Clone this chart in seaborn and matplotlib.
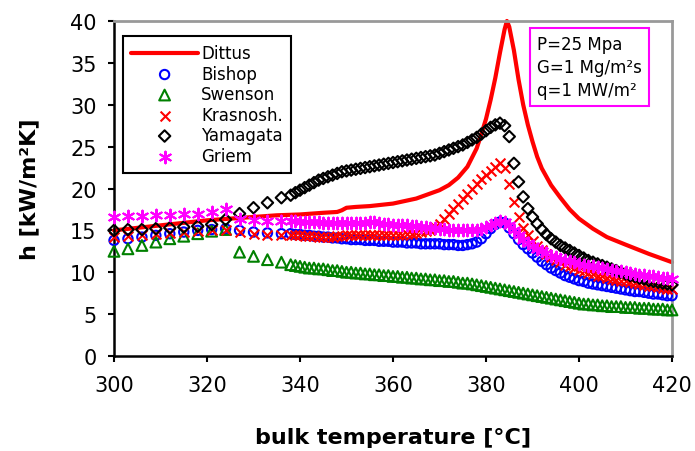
import numpy as np
import pandas as pd
import matplotlib
matplotlib.use('Agg')
import matplotlib.pyplot as plt
import seaborn as sns

sns.set_style('ticks')
plt.rcParams['font.family'] = ['DejaVu Sans']
plt.rcParams['text.color'] = 'black'
plt.rcParams['axes.labelcolor'] = 'black'
plt.rcParams['xtick.color'] = 'black'
plt.rcParams['ytick.color'] = 'black'

# Dittus correlation (solid line)
t_dittus = [300, 305, 310, 315, 320, 325, 330, 335, 340, 345, 348, 349, 350, 352, 355, 360, 365, 370,
            372, 374, 376, 378, 379, 380, 381, 382, 383, 384, 384.5, 385, 386, 387, 388, 389, 390,
            391, 392, 394, 396, 398, 400, 403, 406, 410, 415, 420]
h_dittus = [15.0, 15.3, 15.6, 15.9, 16.2, 16.4, 16.6, 16.8, 16.9, 17.1, 17.2, 17.4, 17.7, 17.8, 17.9, 18.2, 18.8, 19.8,
            20.4, 21.3, 22.6, 24.8, 26.5, 28.3, 30.6, 33.2, 36.2, 39.0, 40.0, 39.3, 36.5, 33.0, 30.0, 27.6, 25.6,
            23.8, 22.4, 20.4, 18.9, 17.5, 16.4, 15.2, 14.2, 13.3, 12.2, 11.2]

# temperatures of the computed points: coarse part, then dense part
t_coarse = [300, 303, 306, 309, 312, 315, 318, 321, 324, 327, 330, 333, 336]
t_dense = list(range(338, 421))

bishop = [13.8, 14.0, 14.2, 14.4, 14.6, 14.8, 15.0, 15.1, 15.2, 15.0, 14.8, 14.7, 14.6,
          14.6, 14.5, 14.5, 14.4, 14.4, 14.3, 14.3, 14.2, 14.2, 14.1, 14.1, 14.0, 14.0,
          13.9, 13.9, 13.9, 13.8, 13.8, 13.8, 13.7, 13.7, 13.7, 13.6, 13.6, 13.6, 13.5, 13.5, 13.5, 13.4, 13.4, 13.4, 13.4, 13.4,
          13.3, 13.3, 13.3, 13.2, 13.2, 13.3, 13.4, 13.6, 14.0, 14.6,
          15.2, 15.7, 16.0, 15.9, 15.3, 14.6, 13.9, 13.3, 12.8, 12.3,
          11.8, 11.3, 10.9, 10.5, 10.2, 9.9, 9.6, 9.4, 9.2, 9.0,
          8.9, 8.7, 8.6, 8.5, 8.4, 8.3, 8.2, 8.1, 8.0, 7.9,
          7.8, 7.7, 7.7, 7.6, 7.5, 7.4, 7.4, 7.3, 7.2, 7.2]

swenson = [12.5, 12.8, 13.2, 13.6, 14.0, 14.3, 14.6, 14.9, 15.1, 12.4, 11.9, 11.5, 11.2,
           10.9, 10.8, 10.7, 10.6, 10.5, 10.5, 10.4, 10.4, 10.3, 10.2, 10.2, 10.1, 10.0,
           10.0, 9.9, 9.9, 9.8, 9.8, 9.7, 9.7, 9.6, 9.6, 9.5, 9.5, 9.4, 9.4, 9.3, 9.3, 9.2, 9.2, 9.1, 9.1, 9.0,
           9.0, 8.9, 8.9, 8.8, 8.7, 8.7, 8.6, 8.5, 8.4, 8.3,
           8.2, 8.1, 8.0, 7.9, 7.8, 7.7, 7.6, 7.5, 7.4, 7.3,
           7.2, 7.1, 7.0, 6.9, 6.8, 6.7, 6.6, 6.5, 6.4, 6.3,
           6.2, 6.2, 6.1, 6.1, 6.0, 6.0, 5.9, 5.9, 5.9, 5.8,
           5.8, 5.8, 5.7, 5.7, 5.7, 5.6, 5.6, 5.6, 5.5, 5.5]

krasnosh = [14.2, 14.3, 14.4, 14.6, 14.7, 14.8, 14.9, 15.0, 15.1, 14.8, 14.6, 14.5, 14.5,
            14.5, 14.4, 14.4, 14.3, 14.3, 14.3, 14.2, 14.2, 14.2, 14.2, 14.3, 14.3, 14.4,
            14.4, 14.4, 14.5, 14.5, 14.5, 14.5, 14.5, 14.5, 14.5, 14.5, 14.5, 14.5, 14.6, 14.6, 14.7, 14.8, 14.9, 15.1, 15.4, 15.8,
            16.3, 16.9, 17.5, 18.1, 18.7, 19.3, 19.9, 20.5, 21.1, 21.6,
            22.1, 22.6, 23.0, 22.4, 20.5, 18.4, 16.6, 15.3, 14.4, 13.7,
            13.1, 12.6, 12.2, 11.8, 11.5, 11.2, 10.9, 10.7, 10.5, 10.3,
            10.1, 9.9, 9.8, 9.6, 9.5, 9.3, 9.2, 9.1, 9.0, 8.9,
            8.8, 8.7, 8.6, 8.5, 8.4, 8.3, 8.2, 8.1, 8.0, 8.0]

yamagata = [15.0, 15.1, 15.1, 15.2, 15.3, 15.4, 15.5, 15.7, 16.3, 17.0, 17.7, 18.3, 18.9,
            19.2, 19.5, 19.8, 20.1, 20.4, 20.7, 21.0, 21.2, 21.4, 21.6, 21.8, 22.0, 22.1,
            22.2, 22.3, 22.4, 22.5, 22.6, 22.7, 22.8, 22.9, 23.0, 23.1, 23.2, 23.3, 23.4, 23.5, 23.6, 23.7, 23.8, 23.9, 24.0, 24.2,
            24.4, 24.6, 24.8, 25.0, 25.2, 25.5, 25.8, 26.1, 26.5, 26.9,
            27.3, 27.6, 27.8, 27.5, 26.2, 23.0, 20.8, 19.0, 17.6, 16.6,
            15.8, 15.1, 14.5, 14.0, 13.6, 13.2, 12.9, 12.6, 12.3, 12.0,
            11.7, 11.4, 11.2, 11.0, 10.8, 10.6, 10.4, 10.2, 10.0, 9.8,
            9.6, 9.5, 9.3, 9.2, 9.0, 8.9, 8.8, 8.7, 8.6, 8.5]

griem = [16.6, 16.7, 16.7, 16.8, 16.8, 16.9, 17.0, 17.2, 17.5, 16.3, 16.2, 16.1, 16.1,
         16.1, 16.1, 16.0, 16.0, 16.0, 16.0, 16.0, 15.9, 15.9, 15.9, 15.9, 15.9, 15.9,
         15.9, 15.9, 15.9, 15.9, 16.0, 16.0, 15.9, 15.8, 15.8, 15.7, 15.7, 15.6, 15.6, 15.5, 15.5, 15.4, 15.4, 15.3, 15.3, 15.2,
         15.2, 15.1, 15.1, 15.0, 15.0, 15.0, 15.0, 15.1, 15.2, 15.4,
         15.6, 15.9, 16.1, 16.0, 15.6, 15.0, 14.4, 13.9, 13.5, 13.1,
         12.8, 12.5, 12.3, 12.0, 11.8, 11.6, 11.5, 11.3, 11.2, 11.0,
         10.9, 10.8, 10.7, 10.6, 10.5, 10.4, 10.3, 10.2, 10.1, 10.0,
         9.9, 9.8, 9.7, 9.7, 9.6, 9.5, 9.4, 9.3, 9.3, 9.2]

t_points = t_coarse + t_dense

fig = plt.figure(figsize=(6.95, 4.52), dpi=100)
ax = fig.add_axes([114/695, 95/452, 558/695, 335/452])

sns.lineplot(x=t_dittus, y=h_dittus, color='red', linewidth=3, label='Dittus', ax=ax,
             clip_on=False, zorder=2)

# computed points: open markers
series = [
    ('Bishop', bishop, 'o', 'blue', 45),
    ('Swenson', swenson, '^', 'green', 60),
    ('Krasnosh.', krasnosh, 'x', 'red', 50),
    ('Yamagata', yamagata, 'D', 'black', 34),
    ('Griem', griem, (6, 2, 0), 'magenta', 70),
]
for name, vals, mk, col, size in series:
    if mk in ('x',) or isinstance(mk, tuple):
        sns.scatterplot(x=t_points, y=vals, marker=mk, s=size, color=col, linewidth=1.5,
                        label=name, ax=ax, clip_on=False, zorder=3)
    else:
        sns.scatterplot(x=t_points, y=vals, marker=mk, s=size, facecolor='none', edgecolor=col,
                        linewidth=1.5, label=name, ax=ax, clip_on=False, zorder=3)

ax.set_xlim(300, 420)
ax.set_ylim(0, 40)
ax.set_xticks([300, 320, 340, 360, 380, 400, 420])
ax.set_yticks(range(0, 41, 5))
ax.tick_params(direction='out', length=4.5, width=1.5, labelsize=15, color='black')
ax.tick_params(axis='y', pad=8)
ax.tick_params(axis='x', pad=9)
for side in ['left', 'bottom']:
    ax.spines[side].set_color('black')
    ax.spines[side].set_linewidth(1.8)
for side in ['top', 'right']:
    ax.spines[side].set_visible(True)
    ax.spines[side].set_color('#999999')
    ax.spines[side].set_linewidth(2)

ax.set_xlabel('bulk temperature [°C]', fontsize=16, fontweight='bold', labelpad=23)
ax.set_ylabel('h [kW/m²K]', fontsize=16, fontweight='bold', labelpad=22)

leg = ax.legend(loc='upper left', bbox_to_anchor=(0.016, 0.955), borderaxespad=0,
                fontsize=12, frameon=True, fancybox=False, framealpha=1,
                handlelength=4.0, handletextpad=0.2, labelspacing=0.15, borderpad=0.5)
leg.get_frame().set_edgecolor('black')
leg.get_frame().set_linewidth(1.5)

ax.text(0.758, 0.958, 'P=25 Mpa\nG=1 Mg/m²s\nq=1 MW/m²', transform=ax.transAxes,
        ha='left', va='top', fontsize=12, linespacing=1.35,
        bbox=dict(boxstyle='square,pad=0.4', facecolor='white', edgecolor='magenta', linewidth=1.5),
        zorder=5)

fig.savefig('out.png', dpi=100)
